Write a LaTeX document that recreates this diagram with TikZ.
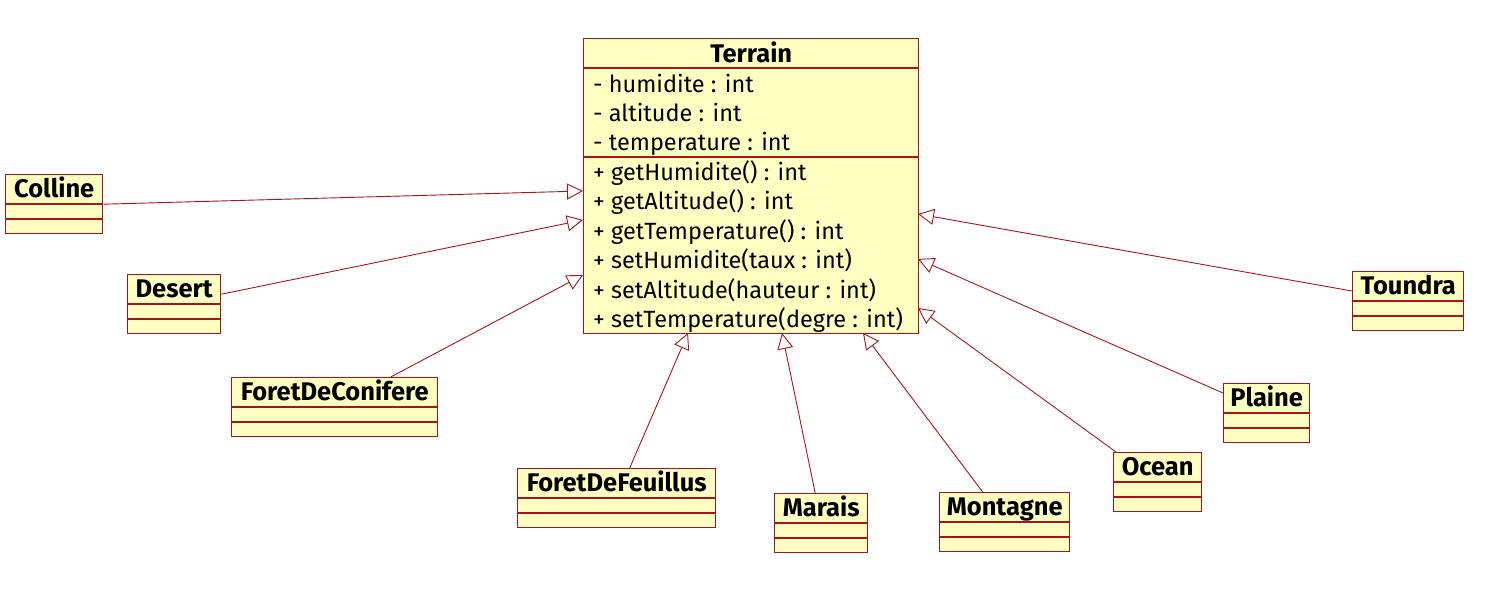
\documentclass[tikz,border=0pt]{standalone}
\usepackage{fontspec}
\setmainfont{Fira Sans}
\usetikzlibrary{arrows.meta, positioning}

\definecolor{umlred}{RGB}{168,20,30}
\definecolor{umlfill}{RGB}{255,255,194}

\tikzset{
  cls/.style={draw=umlred, fill=umlfill, line width=1.4pt, inner sep=0pt, rectangle},
  sep/.style={draw=umlred, line width=1.2pt},
  ttl/.style={font=\bfseries\fontsize{25.5}{28}\selectfont, inner sep=0pt, anchor=base},
  mbr/.style={font=\fontsize{23.5}{28}\selectfont, inner sep=0pt, anchor=base west},
  gen/.style={draw=umlred, line width=0.9pt, -{Triangle[open, length=16pt, width=16pt]}},
}

% class box: name, x, y, width, title
\newcommand{\classbox}[5]{%
  \node[cls, anchor=north west, minimum width=#4, minimum height=59] (#1) at (#2,#3) {};
  \node[ttl] (#1-t) at ([yshift=-23pt]#1.north) {#5};
  \draw[sep] ([yshift=-30pt]#1.north west) -- ([yshift=-30pt]#1.north east);
  \draw[sep] ([yshift=-45pt]#1.north west) -- ([yshift=-45pt]#1.north east);
}

\begin{document}
\begin{tikzpicture}[x=1pt, y=-1pt]
\useasboundingbox (0,0) rectangle (1488,590);

% Terrain
\node[cls, anchor=north west, minimum width=335, minimum height=295] (terrain) at (583,38) {};
\node[ttl] (terrain-t) at ([yshift=-24pt]terrain.north) {Terrain};
\draw[sep] ([yshift=-30pt]terrain.north west) -- ([yshift=-30pt]terrain.north east);
\draw[sep] ([yshift=-119pt]terrain.north west) -- ([yshift=-119pt]terrain.north east);
\node[mbr] (a1) at (593,92) {- humidite : int};
\node[mbr] (a2) at (593,121) {- altitude : int};
\node[mbr] (a3) at (593,150) {- temperature : int};
\node[mbr] (m1) at (593,180) {+ getHumidite() : int};
\node[mbr] (m2) at (593,209.5) {+ getAltitude() : int};
\node[mbr] (m3) at (593,239) {+ getTemperature() : int};
\node[mbr] (m4) at (593,268.5) {+ setHumidite(taux : int)};
\node[mbr] (m5) at (593,298) {+ setAltitude(hauteur : int)};
\node[mbr] (m6) at (593,327) {+ setTemperature(degre : int)};

% subclasses
\classbox{colline}{5}{174}{97}{Colline}
\classbox{desert}{127}{274}{93}{Desert}
\classbox{fconif}{231}{377}{206}{ForetDeConifere}
\classbox{ffeuil}{517}{468}{198}{ForetDeFeuillus}
\classbox{marais}{774}{493}{93}{Marais}
\classbox{montagne}{939}{492}{130}{Montagne}
\classbox{ocean}{1113}{452}{88}{Ocean}
\classbox{plaine}{1223}{383}{86}{Plaine}
\classbox{toundra}{1352}{271}{111}{Toundra}

% arrow tips on Terrain
\coordinate (pColline) at (583,191);
\coordinate (pDesert) at (583,220);
\coordinate (pFconif) at (583,275);
\coordinate (pFfeuil) at (688,333);
\coordinate (pMarais) at (782,333);
\coordinate (pMontagne) at (863,333);
\coordinate (pOcean) at (918,308);
\coordinate (pPlaine) at (918,259);
\coordinate (pToundra) at (918,214);

\draw[gen] (colline.east) -- (pColline);
\draw[gen] ([yshift=10pt]desert.east) -- (pDesert);
\draw[gen] ([xshift=56pt]fconif.north) -- (pFconif);
\draw[gen] ([xshift=13pt]ffeuil.north) -- (pFfeuil);
\draw[gen] ([xshift=-6pt]marais.north) -- (pMarais);
\draw[gen] ([xshift=-22pt]montagne.north) -- (pMontagne);
\draw[gen] ([xshift=3pt]ocean.north west) -- (pOcean);
\draw[gen] ([yshift=-10pt]plaine.north west) -- (pPlaine);
\draw[gen] ([yshift=-20pt]toundra.north west) -- (pToundra);
\end{tikzpicture}
\end{document}
